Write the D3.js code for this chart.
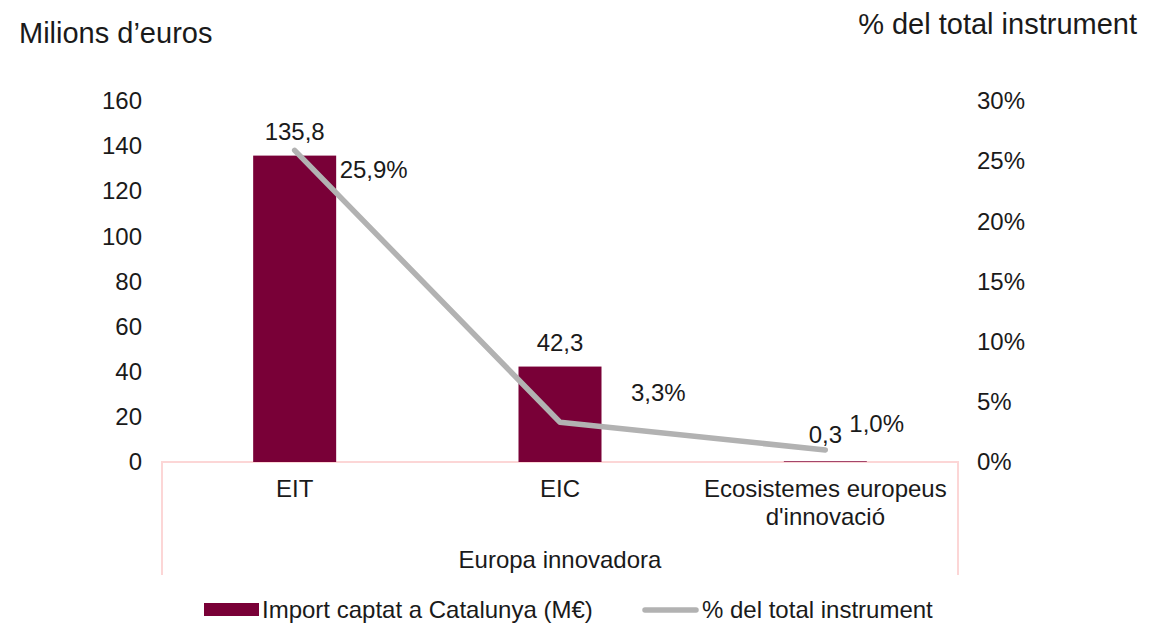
<!DOCTYPE html>
<html>
<head>
<meta charset="utf-8">
<script src="https://cdn.jsdelivr.net/npm/d3@7"></script>
<style>
  body { margin: 0; background: #fff; }
  svg { font-family: "Liberation Sans", Arial, sans-serif; }
</style>
</head>
<body>
<div id="chart"></div>
<script>
var categories = ["EIT", "EIC", "Ecosistemes europeus d'innovació"];
var groupLabel = "Europa innovadora";
var amounts = [135.8, 42.3, 0.3];
var shares = [25.9, 3.3, 1.0];
var leftTicks = [0, 20, 40, 60, 80, 100, 120, 140, 160];
var rightTicks = [0, 5, 10, 15, 20, 25, 30];
var barName = "Import captat a Catalunya (M€)";
var lineName = "% del total instrument";

var width = 1157, height = 623;
var barColor = "#790037", lineColor = "#b2b2b2", frameColor = "#fcd6d6", textColor = "#1a1a1a";
var fs = 24;

var svg = d3.select("#chart").append("svg")
  .attr("width", width)
  .attr("height", height);

var x = d3.scaleBand().domain(categories).range([162, 958]).padding(0);
var yL = d3.scaleLinear().domain([0, 160]).range([462, 101]);
var yR = d3.scaleLinear().domain([0, 30]).range([462, 101]);
var fmt = d3.formatLocale({decimal: ",", thousands: ".", grouping: [3], currency: ["", "€"]});
var f1 = fmt.format(".1f");
var cx = function(i) { return x(categories[i]) + x.bandwidth() / 2; };

// titles
svg.append("text").attr("x", 19).attr("y", 43)
  .attr("font-size", 29).attr("fill", textColor).text("Milions d’euros");
svg.append("text").attr("x", 1137).attr("y", 34).attr("text-anchor", "end")
  .attr("font-size", 29).attr("fill", textColor).text(lineName);

// left axis
var axL = svg.append("g").attr("transform", "translate(142,0)")
  .call(d3.axisLeft(yL).tickValues(leftTicks).tickSize(0).tickPadding(0));
axL.select(".domain").remove();
axL.selectAll("text").attr("font-size", fs).attr("fill", textColor).attr("font-family", null);

// right axis
var axR = svg.append("g").attr("transform", "translate(977,0)")
  .call(d3.axisRight(yR).tickValues(rightTicks).tickSize(0).tickPadding(0)
    .tickFormat(function(d) { return d + "%"; }));
axR.select(".domain").remove();
axR.selectAll("text").attr("font-size", fs).attr("fill", textColor).attr("font-family", null);

// category frame
svg.append("path")
  .attr("d", "M" + x.range()[0] + ",575V" + yL(0) + "H" + x.range()[1] + "V575")
  .attr("fill", "none").attr("stroke", frameColor).attr("stroke-width", 2);

// bars
var bw = 83;
svg.selectAll(".bar").data(amounts).enter().append("rect")
  .attr("class", "bar")
  .attr("x", function(d, i) { return cx(i) - bw / 2; })
  .attr("y", function(d) { return yL(d); })
  .attr("width", bw)
  .attr("height", function(d) { return yL(0) - yL(d); })
  .attr("fill", barColor);

// line
var line = d3.line()
  .x(function(d, i) { return cx(i); })
  .y(function(d) { return yR(d); });
svg.append("path").datum(shares)
  .attr("d", line)
  .attr("fill", "none").attr("stroke", lineColor).attr("stroke-width", 5.5)
  .attr("stroke-linecap", "round").attr("stroke-linejoin", "round");

// bar labels
var barLabelOff = [[0, -16], [0, -16], [0, -18]];
svg.selectAll(".blab").data(amounts).enter().append("text")
  .attr("class", "blab")
  .attr("x", function(d, i) { return cx(i) + barLabelOff[i][0]; })
  .attr("y", function(d, i) { return yL(d) + barLabelOff[i][1]; })
  .attr("text-anchor", "middle").attr("font-size", fs).attr("fill", textColor)
  .text(function(d) { return f1(d); });

// line labels
var lineLabelOff = [[45, 28], [71, -21], [24, -18]];
svg.selectAll(".llab").data(shares).enter().append("text")
  .attr("class", "llab")
  .attr("x", function(d, i) { return cx(i) + lineLabelOff[i][0]; })
  .attr("y", function(d, i) { return yR(d) + lineLabelOff[i][1]; })
  .attr("font-size", fs).attr("fill", textColor)
  .text(function(d) { return f1(d) + "%"; });

// category labels
svg.selectAll(".cat").data(categories).enter().append("text")
  .attr("class", "cat")
  .attr("x", function(d, i) { return cx(i); })
  .attr("y", 497)
  .attr("text-anchor", "middle").attr("font-size", fs).attr("fill", textColor)
  .each(function(d, i) {
    var t = d3.select(this);
    var parts = i === 2 ? ["Ecosistemes europeus", "d'innovació"] : [d];
    parts.forEach(function(p, j) {
      t.append("tspan").attr("x", cx(i)).attr("dy", j ? 28 : 0).text(p);
    });
  });
svg.append("text")
  .attr("x", (x.range()[0] + x.range()[1]) / 2).attr("y", 568)
  .attr("text-anchor", "middle").attr("font-size", fs).attr("fill", textColor)
  .text(groupLabel);

// legend
var lg = svg.append("g");
lg.append("rect").attr("x", 204).attr("y", 603).attr("width", 55).attr("height", 13).attr("fill", barColor);
lg.append("text").attr("x", 262).attr("y", 618).attr("font-size", fs).attr("fill", textColor).text(barName);
lg.append("line").attr("x1", 645).attr("x2", 696).attr("y1", 610).attr("y2", 610)
  .attr("stroke", lineColor).attr("stroke-width", 5.5).attr("stroke-linecap", "round");
lg.append("text").attr("x", 702).attr("y", 618).attr("font-size", fs).attr("fill", textColor).text(lineName);
</script>
</body>
</html>
